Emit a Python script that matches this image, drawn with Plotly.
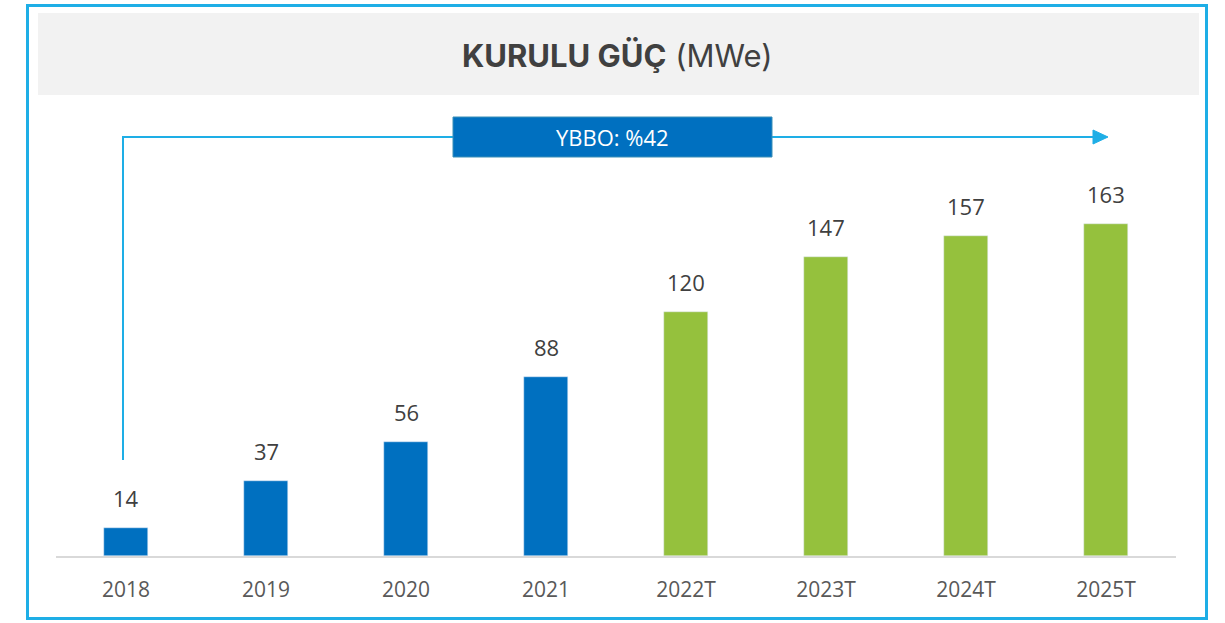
import plotly.graph_objects as go

categories = ["2018", "2019", "2020", "2021", "2022T", "2023T", "2024T", "2025T"]
values = [14, 37, 56, 88, 120, 147, 157, 163]
is_forecast = [False, False, False, False, True, True, True, True]
title_bold = "KURULU GÜÇ"
title_unit = "(MWe)"
cagr_label = "YBBO: %42"

W, H = 1225, 623
L, R, T, B = 56, 49, 100, 67
PW, PH = W - L - R, H - T - B
YMAX = 224

def px(x):
    return (x - L) / PW

def py(y):
    return (H - B - y) / PH

BLUE = "#0070C0"
GREEN = "#95C13D"
SKY = "#1EAEE6"

colors = [GREEN if f else BLUE for f in is_forecast]

fig = go.Figure()
fig.add_trace(go.Bar(x=categories, y=values, marker_color=colors, width=0.314,
                     hoverinfo="x+y"))

for i, v in enumerate(values):
    fig.add_annotation(x=i, y=v, text=str(v), showarrow=False, xref="x", yref="y",
                       xanchor="center", yanchor="bottom", yshift=13,
                       font=dict(family="Open Sans", size=22, color="#404040"))

shapes = []
shapes.append(dict(type="rect", xref="paper", yref="paper",
                   x0=px(27.5), x1=px(1206.5), y0=py(618.5), y1=py(5.5),
                   line=dict(color=SKY, width=3), layer="below"))
shapes.append(dict(type="rect", xref="paper", yref="paper",
                   x0=px(38), x1=px(1199), y0=py(95), y1=py(13),
                   fillcolor="#F2F2F2", line=dict(width=0), layer="below"))
shapes.append(dict(type="path", xref="paper", yref="paper",
                   path=f"M {px(123)} {py(460)} L {px(123)} {py(137)} L {px(1095)} {py(137)}",
                   line=dict(color=SKY, width=2)))
shapes.append(dict(type="path", xref="paper", yref="paper",
                   path=f"M {px(1093)} {py(130)} L {px(1108)} {py(137)} L {px(1093)} {py(144)} Z",
                   fillcolor=SKY, line=dict(color=SKY, width=1)))
shapes.append(dict(type="rect", xref="paper", yref="paper",
                   x0=px(453), x1=px(772), y0=py(157), y1=py(117),
                   fillcolor=BLUE, line=dict(color="#3A8FB7", width=1)))

fig.add_annotation(xref="paper", yref="paper", x=px(612), y=py(137), text=cagr_label,
                   showarrow=False, xanchor="center", yanchor="middle",
                   font=dict(family="Open Sans", size=22, color="white"))
fig.add_annotation(xref="paper", yref="paper", x=px(617), y=py(56),
                   text=f"<b>{title_bold}</b> {title_unit}", showarrow=False,
                   xanchor="center", yanchor="middle",
                   font=dict(family="Inter", size=31, color="#404040"))

fig.update_layout(
    width=W, height=H,
    margin=dict(l=L, r=R, t=T, b=B),
    paper_bgcolor="white", plot_bgcolor="white",
    showlegend=False, shapes=shapes, bargap=0,
    xaxis=dict(type="category", range=[-0.5, 7.5], showgrid=False, showline=True,
               linecolor="#D9D9D9", linewidth=2, ticks="", ticklabelstandoff=14,
               tickfont=dict(family="Open Sans", size=21, color="#595959")),
    yaxis=dict(range=[0, YMAX], visible=False, showgrid=False, zeroline=False),
)

fig.write_html("out.html", config={"displayModeBar": False},
               post_script="document.body.style.margin='0';document.body.style.overflow='hidden';")
